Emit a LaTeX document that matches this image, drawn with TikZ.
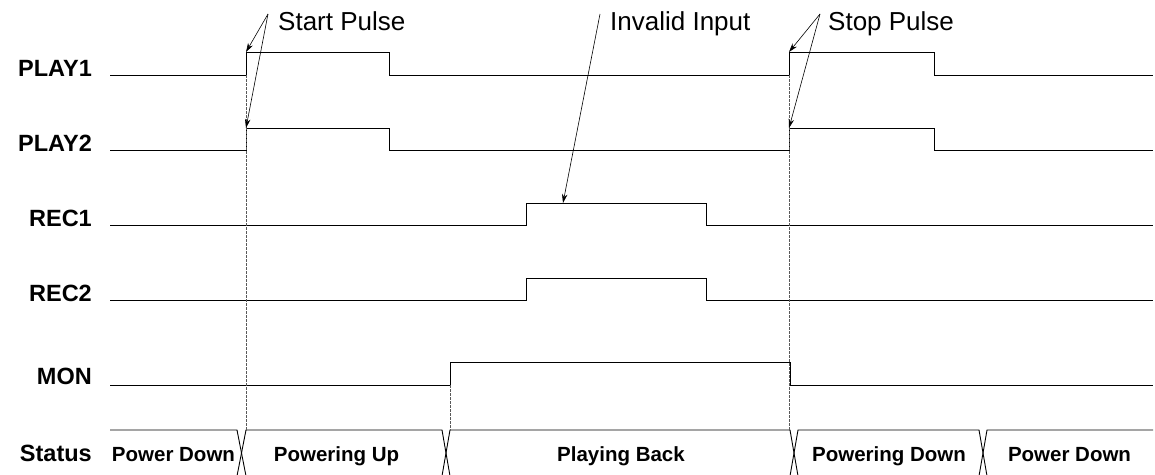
\documentclass[tikz,border=0pt]{standalone}
\usepackage{fontspec}
\setmainfont{Liberation Sans}
\usetikzlibrary{arrows.meta}
\begin{document}
\begin{tikzpicture}[x=1pt,y=-1pt,
  sig/.style={line width=0.9pt, black},
  guide/.style={line width=0.7pt, gray!70!black, dash pattern=on 2.5pt off 1.5pt},
  callout/.style={line width=0.6pt, -{Stealth[length=9pt,width=5.5pt]}},
  siglabel/.style={anchor=base east, inner sep=0pt, font=\fontsize{23.5}{27}\selectfont\bfseries},
  statelabel/.style={anchor=base, inner sep=0pt, font=\fontsize{20.5}{24}\selectfont\bfseries},
  note/.style={anchor=base west, inner sep=0pt, font=\fontsize{26}{30}\selectfont}]
\useasboundingbox (0,0) rectangle (1155,474);
\clip (0,0) rectangle (1155,474);

% signal labels
\node[siglabel] (lplay1) at (92,76) {PLAY1};
\node[siglabel] (lplay2) at (92,151) {PLAY2};
\node[siglabel] (lrec1) at (92,226) {REC1};
\node[siglabel] (lrec2) at (92,301) {REC2};
\node[siglabel] (lmon) at (92,384) {MON};
\node[siglabel] (lstatus) at (92,461) {Status};

% key points
\coordinate (p1r) at (246,52);
\coordinate (p1f) at (789,52);
\coordinate (p2r) at (246,128);
\coordinate (p2f) at (789,128);
\coordinate (r1h) at (563,203);

% waveforms
\draw[sig] (110,75) -- (246,75) -- (p1r) -- (389,52) -- (389,75) -- (789,75) -- (p1f) -- (934,52) -- (934,75) -- (1153,75);
\draw[sig] (110,150) -- (246,150) -- (p2r) -- (389,128) -- (389,150) -- (789,150) -- (p2f) -- (934,128) -- (934,150) -- (1153,150);
\draw[sig] (110,225) -- (526,225) -- (526,203) -- (706,203) -- (706,225) -- (1153,225);
\draw[sig] (110,300) -- (526,300) -- (526,278) -- (706,278) -- (706,300) -- (1153,300);
\draw[sig] (110,385) -- (450,385) -- (450,362) -- (790,362) -- (790,385) -- (1153,385);

% status bus
\draw[sig] (110,430) -- (237,430) -- (246,476);
\draw[sig] (237,476) -- (246,430) -- (442,430) -- (450,476);
\draw[sig] (442,476) -- (450,430) -- (790,430) -- (798,476);
\draw[sig] (790,476) -- (798,430) -- (979,430) -- (987,476);
\draw[sig] (979,476) -- (987,430) -- (1153,430);

% guides
\draw[guide] (246,75) -- (246,430);
\draw[guide] (450,385) -- (450,430);
\draw[guide] (789,75) -- (789,430);

% status texts
\node[statelabel] (s1) at (173.5,461) {Power Down};
\node[statelabel] (s2) at (336.5,461) {Powering Up};
\node[statelabel] (s3) at (621,461) {Playing Back};
\node[statelabel] (s4) at (889,461) {Powering Down};
\node[statelabel] (s5) at (1069.5,461) {Power Down};

% callouts
\node[note] (nstart) at (278,30) {Start Pulse};
\node[note] (ninv) at (610,30) {Invalid Input};
\node[note] (nstop) at (828,30) {Stop Pulse};
\coordinate (cstart) at (268,14);
\coordinate (cinv) at (600,14);
\coordinate (cstop) at (820,14);
\draw[callout] (cstart) -- (p1r);
\draw[callout] (cstart) -- (p2r);
\draw[callout] (cinv) -- (r1h);
\draw[callout] (cstop) -- (p1f);
\draw[callout] (cstop) -- (p2f);
\end{tikzpicture}
\end{document}
